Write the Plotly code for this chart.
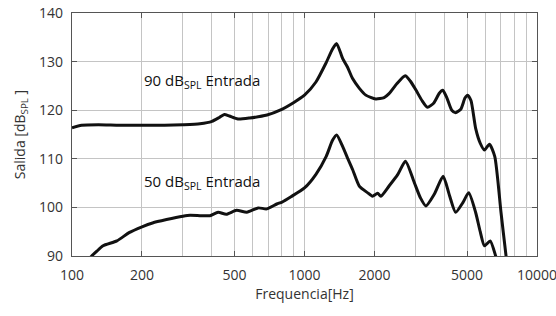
import plotly.graph_objects as go
import math

# Upper curve: 90 dB SPL input
freq_90 = [100, 110, 130, 160, 200, 250, 300, 355, 400, 430, 452, 475, 517, 580, 690, 785,
           900, 1000, 1120, 1240, 1320, 1375, 1460, 1530, 1610, 1722, 1835, 2025, 2200, 2310,
           2500, 2712, 2850, 3010, 3200, 3379, 3600, 3800, 3933, 4100, 4300, 4466, 4700, 4900,
           5030, 5200, 5450, 5700, 5940, 6245, 6580, 7000, 7360, 7500]
spl_90 = [116.4, 116.9, 117.0, 116.9, 116.9, 116.9, 117.0, 117.2, 117.7, 118.5, 119.1, 118.8,
          118.2, 118.4, 119.0, 120.0, 121.6, 123.1, 125.8, 129.8, 132.6, 133.7, 130.6, 128.9,
          126.5, 124.5, 123.1, 122.3, 122.6, 123.4, 125.5, 127.1, 126.0, 124.2, 122.0, 120.6,
          121.5, 123.5, 124.1, 122.5, 120.0, 119.5, 120.2, 122.5, 123.1, 122.0, 116.2, 113.2,
          111.8, 113.0, 110.5, 99.0, 90.0, 87.0]

# Lower curve: 50 dB SPL input
freq_50 = [118, 121.5, 128, 136, 156, 176, 200, 222, 255, 300, 322, 360, 392, 425, 461, 510,
           565, 632, 688, 760, 800, 875, 1000, 1120, 1240, 1320, 1375, 1460, 1530, 1610, 1720,
           1870, 1960, 2063, 2130, 2310, 2520, 2718, 2967, 3150, 3327, 3614, 3948, 4200, 4466,
           4800, 5085, 5450, 5700, 5940, 6290, 6640, 6800]
spl_50 = [89.3, 90.0, 91.0, 92.1, 93.1, 94.8, 96.0, 96.8, 97.5, 98.2, 98.4, 98.3, 98.3, 99.0,
          98.6, 99.4, 99.0, 99.9, 99.7, 100.7, 101.1, 102.2, 104.0, 106.8, 110.5, 113.8, 114.9,
          112.5, 110.2, 107.8, 104.4, 103.0, 102.3, 102.9, 102.3, 104.4, 106.8, 109.5, 105.1,
          102.0, 100.3, 102.7, 106.4, 102.5, 99.0, 101.0, 103.0, 98.9, 95.0, 92.1, 93.1, 90.0, 88.0]

x_tick_vals = [100, 200, 500, 1000, 2000, 5000, 10000]
x_tick_text = ["100", "200", "500", "1000", "2000", "5000", "10000"]
x_grid_vals = [100, 200, 300, 400, 500, 600, 700, 800, 900,
               1000, 2000, 3000, 4000, 5000, 6000, 7000, 8000, 9000, 10000]
y_tick_vals = [90, 100, 110, 120, 130, 140]

labels = ["90 dB<sub>SPL</sub> Entrada", "50 dB<sub>SPL</sub> Entrada"]
label_freq = [200, 200]
label_spl = [126.0, 105.3]

FONT = "Open Sans"
FS = 14
fig = go.Figure()
for fx, sy in [(freq_90, spl_90), (freq_50, spl_50)]:
    fig.add_trace(go.Scatter(x=fx, y=sy, mode="lines",
                             line=dict(color="#111111", width=3, shape="spline", smoothing=0.6),
                             showlegend=False, hoverinfo="skip"))

for t, fx, sy in zip(labels, label_freq, label_spl):
    fig.add_annotation(x=math.log10(fx), y=sy, xref="x", yref="y", text=t, showarrow=False,
                       xanchor="left", yanchor="middle",
                       font=dict(family=FONT, size=15, color="#111111"))

axis_common = dict(showline=True, linecolor="#555555", linewidth=1.2, mirror="ticks",
                   ticks="inside", ticklen=5, tickcolor="#555555", zeroline=False,
                   automargin=False, ticklabeloverflow="allow",
                   tickfont=dict(family=FONT, size=FS, color="#333333"))

fig.update_xaxes(type="log", range=[2, 4], tickmode="array", tickvals=x_tick_vals,
                 ticktext=x_tick_text, showgrid=False, ticklabelstandoff=6,
                 minor=dict(tickmode="array", tickvals=x_grid_vals, showgrid=True,
                            gridcolor="#c4c4c4", gridwidth=1, ticks=""),
                 title=dict(text="Frequencia[Hz]", font=dict(family=FONT, size=FS, color="#333333"),
                            standoff=2),
                 **axis_common)
fig.update_yaxes(range=[90, 140], tickmode="array", tickvals=y_tick_vals,
                 showgrid=True, gridcolor="#c4c4c4", gridwidth=1, ticklabelstandoff=5,
                 title=dict(text="Salida [dB<sub>SPL</sub> ]",
                            font=dict(family=FONT, size=FS, color="#333333"), standoff=10),
                 **axis_common)

fig.update_layout(width=556, height=316, margin=dict(l=72, r=19, t=13, b=60),
                  paper_bgcolor="white", plot_bgcolor="white",
                  font=dict(family=FONT, size=FS, color="#333333"))

fig.write_html("out.html", config={"displayModeBar": False, "staticPlot": True},
               post_script="document.body.style.margin='0';document.body.style.overflow='hidden';")
